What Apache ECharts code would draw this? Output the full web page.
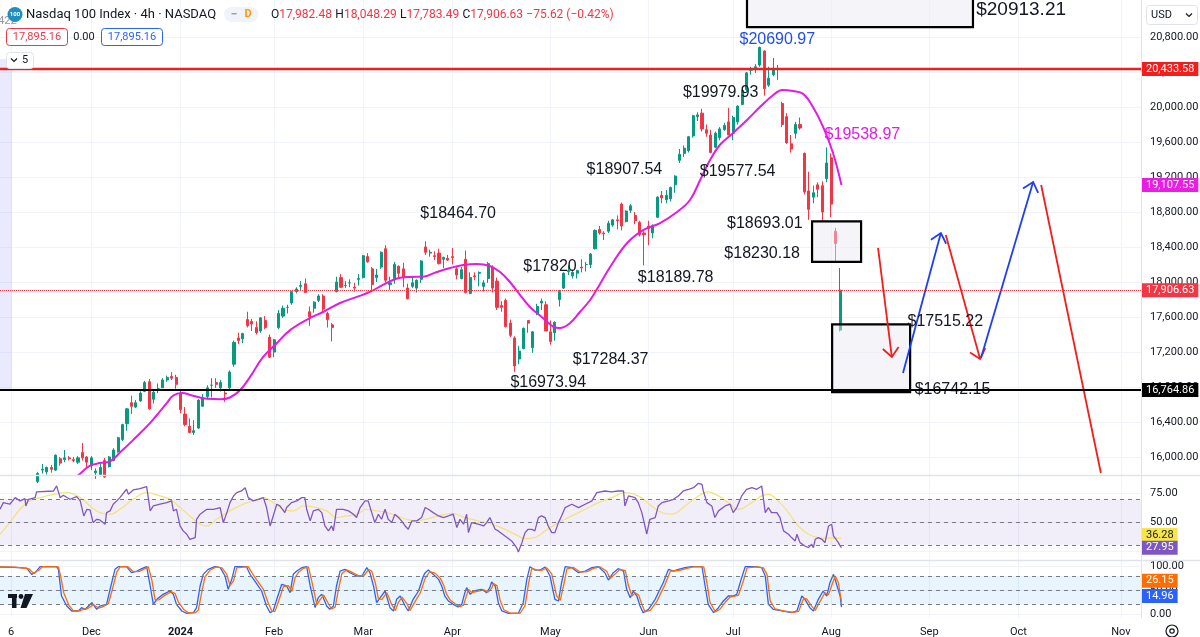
<!DOCTYPE html>
<html>
<head>
<meta charset="utf-8">
<title>Nasdaq 100 Index · 4h · NASDAQ</title>
<script src="https://cdn.jsdelivr.net/npm/echarts@6.0.0/dist/echarts.min.js"></script>
<style>
  html, body { margin: 0; padding: 0; background: #fff; }
  #main { width: 1200px; height: 637px; }
</style>
</head>
<body>
<div id="main"></div>
<script>
// Initialise the echarts instance based on the prepared dom
const myChart = echarts.init(document.getElementById('main'));

// sessions on the time scale (last real bar 2024-08-05, the rest is empty space on the right)
const holidays = ['2023-11-23', '2023-12-25', '2024-01-01', '2024-01-15', '2024-02-19', '2024-03-29',
    '2024-05-27', '2024-06-19', '2024-07-04', '2024-09-02'];
const sessionCount = 256;
const sessions = [];
for (let d = new Date(Date.UTC(2023, 10, 2)); sessions.length < sessionCount; d.setUTCDate(d.getUTCDate() + 1)) {
    const iso = d.toISOString().slice(0, 10);
    if (d.getUTCDay() !== 0 && d.getUTCDay() !== 6 && !holidays.includes(iso)) sessions.push(iso);
}
const timeLabels = {
    '2023-11-06': '6', '2023-12-01': 'Dec', '2024-01-02': '2024', '2024-02-01': 'Feb', '2024-03-01': 'Mar',
    '2024-04-01': 'Apr', '2024-05-01': 'May', '2024-06-03': 'Jun', '2024-07-01': 'Jul', '2024-08-01': 'Aug',
    '2024-09-03': 'Sep', '2024-10-01': 'Oct', '2024-11-01': 'Nov'
};
const timeTicks = Object.keys(timeLabels).map(d => sessions.indexOf(d));

// one candle per session: [open, high, low, close]
const ohlc = [
    [14830, 14960, 14780, 14940], [15010, 15130, 14990, 15100], [15090, 15190, 15050, 15170], [15170, 15340, 15150, 15320],
    [15330, 15380, 15270, 15340], [15350, 15400, 15180, 15200], [15230, 15540, 15210, 15530], [15480, 15540, 15440, 15480],
    [15720, 15830, 15700, 15810], [15850, 15920, 15810, 15860], [15830, 15890, 15800, 15880], [15880, 15910, 15820, 15860],
    [15850, 16030, 15840, 16020], [15980, 16000, 15900, 15930], [15970, 16080, 15940, 15990], [15990, 16010, 15960, 15980],
    [15970, 16000, 15940, 15960], [15940, 16010, 15920, 15990], [16050, 16160, 15960, 15990], [16000, 16010, 15880, 15940],
    // Dec
    [15900, 16010, 15850, 15990], [15820, 15870, 15750, 15840], [15800, 15920, 15780, 15880], [15960, 15990, 15760, 15770],
    [15890, 16010, 15880, 16000], [15960, 16100, 15950, 16080], [16060, 16230, 16050, 16220], [16200, 16380, 16180, 16370],
    [16380, 16560, 16300, 16550], [16620, 16700, 16490, 16580], [16570, 16650, 16560, 16620], [16640, 16750, 16630, 16730],
    [16750, 16870, 16740, 16850], [16860, 16890, 16540, 16550], [16660, 16760, 16610, 16740], [16780, 16840, 16730, 16780],
    [16790, 16900, 16790, 16880], [16880, 16930, 16860, 16910], [16920, 16970, 16880, 16900], [16910, 16940, 16780, 16830],
    // Jan
    [16720, 16760, 16500, 16540], [16490, 16570, 16350, 16370], [16350, 16440, 16270, 16280], [16280, 16420, 16250, 16300],
    [16330, 16660, 16320, 16650], [16580, 16720, 16570, 16680], [16690, 16820, 16660, 16790], [16820, 16900, 16680, 16820],
    [16850, 16900, 16790, 16830], [16790, 16880, 16750, 16850], [16730, 16760, 16630, 16720], [16790, 16990, 16770, 16970],
    [17060, 17330, 17030, 17310], [17360, 17420, 17290, 17330], [17350, 17420, 17300, 17410], [17570, 17660, 17480, 17500],
    [17550, 17580, 17440, 17520], [17480, 17550, 17400, 17420], [17440, 17600, 17420, 17590], [17560, 17610, 17460, 17480],
    [17370, 17400, 17130, 17140],
    // Feb
    [17200, 17350, 17140, 17340], [17480, 17680, 17460, 17640], [17610, 17730, 17590, 17700], [17710, 17740, 17640, 17710],
    [17760, 17900, 17740, 17890], [17890, 17940, 17870, 17920], [17950, 18010, 17910, 17960], [17980, 18040, 17880, 17880],
    [17660, 17720, 17500, 17600], [17700, 17780, 17650, 17770], [17790, 17860, 17770, 17840], [17840, 17860, 17660, 17690],
    [17640, 17660, 17480, 17570], [17510, 17530, 17320, 17480], [17890, 18060, 17880, 18000], [18050, 18090, 17930, 17940],
    [17960, 18010, 17930, 17960], [17990, 18030, 17940, 17990], [17940, 17990, 17890, 17930], [18030, 18090, 17960, 18040],
    // Mar
    [18050, 18310, 18040, 18300], [18290, 18330, 18220, 18230], [18150, 18170, 17900, 17970], [18050, 18150, 18000, 18080],
    [18170, 18350, 18150, 18340], [18380, 18420, 17990, 18020], [17970, 18060, 17910, 17990], [18040, 18230, 17980, 18200],
    [18180, 18190, 18050, 18100], [18150, 18220, 17940, 18050], [17930, 17980, 17800, 17810], [17950, 18070, 17930, 17990],
    [17930, 18030, 17880, 18020], [18030, 18250, 17990, 18240], [18400, 18465, 18310, 18340], [18330, 18370, 18290, 18340],
    [18300, 18350, 18250, 18290], [18330, 18380, 18200, 18210], [18260, 18290, 18160, 18280], [18270, 18310, 18240, 18250],
    // Apr
    [18290, 18390, 18200, 18280], [18150, 18170, 18030, 18080], [18040, 18170, 18030, 18140], [18260, 18360, 17870, 17880],
    [17870, 18110, 17860, 18050], [18070, 18110, 18020, 18060], [18100, 18120, 17950, 18110], [17950, 18020, 17890, 17990],
    [18040, 18230, 17990, 18210], [18170, 18190, 17880, 17930], [18010, 18050, 17680, 17710], [17730, 17780, 17660, 17710],
    [17790, 17810, 17480, 17490], [17530, 17570, 17370, 17390], [17360, 17380, 16974, 17040], [17120, 17270, 17060, 17210],
    [17240, 17480, 17230, 17470], [17560, 17560, 17420, 17530], [17250, 17440, 17190, 17430], [17640, 17750, 17620, 17720],
    [17760, 17810, 17680, 17780], [17740, 17780, 17440, 17440],
    // May
    [17430, 17560, 17284, 17320], [17420, 17550, 17330, 17540], [17800, 17910, 17720, 17890], [17930, 18110, 17920, 18100],
    [18120, 18190, 18080, 18130], [18070, 18140, 18040, 18110], [18100, 18140, 18040, 18130], [18170, 18260, 18110, 18160],
    [18200, 18230, 18120, 18200], [18200, 18330, 18160, 18320], [18380, 18600, 18370, 18590], [18600, 18640, 18540, 18560],
    [18560, 18580, 18480, 18550], [18580, 18700, 18560, 18670], [18650, 18720, 18630, 18710], [18710, 18760, 18600, 18700],
    [18890, 18908, 18590, 18640], [18690, 18820, 18680, 18810], [18820, 18890, 18790, 18870], [18760, 18800, 18660, 18700],
    [18680, 18700, 18520, 18540], [18560, 18580, 18190, 18540],
    // Jun
    [18640, 18700, 18420, 18610], [18560, 18660, 18500, 18640], [18740, 18980, 18730, 18970], [18990, 19040, 18900, 18960],
    [18940, 19050, 18900, 18990], [18950, 19090, 18920, 19080], [19110, 19220, 19020, 19210], [19390, 19520, 19360, 19460],
    [19470, 19560, 19430, 19530], [19500, 19670, 19480, 19660], [19670, 19910, 19650, 19900], [19890, 19940, 19840, 19910],
    [19930, 19980, 19720, 19750], [19740, 19800, 19660, 19700], [19680, 19740, 19470, 19480], [19540, 19720, 19530, 19700],
    [19650, 19770, 19620, 19750], [19740, 19820, 19730, 19790], [19830, 19990, 19680, 19680],
    // Jul
    [19700, 19900, 19620, 19880], [19830, 20020, 19800, 20010], [20030, 20190, 20020, 20190], [20200, 20400, 20180, 20390],
    [20420, 20460, 20370, 20440], [20440, 20490, 20390, 20460], [20480, 20691, 20460, 20680], [20640, 20650, 20130, 20210],
    [20250, 20460, 20230, 20330], [20370, 20560, 20350, 20430], [20440, 20480, 20310, 20440], [20040, 20060, 19770, 19800],
    [19890, 19930, 19580, 19590], [19580, 19680, 19480, 19520], [19700, 19830, 19640, 19800], [19800, 19880, 19740, 19760],
    [19470, 19480, 19000, 19030], [19040, 19260, 18710, 18830], [18970, 19100, 18900, 19020], [19110, 19140, 18970, 19060],
    [19100, 19150, 18700, 18800], [19180, 19539, 19140, 19360],
    // Aug
    [19420, 19470, 18740, 18890], [18580, 18620, 18230, 18440], [17450, 18160, 17433, 17906.63]
];

// magenta moving average, [session index, price]
const maPts = [[8, 15300], [13, 15600], [17.4, 15806], [19.7, 15900], [21.9, 15930], [24.2, 15950], [26.4, 16050],
    [29.3, 16190], [33.2, 16390], [37, 16620], [38.3, 16700], [40.3, 16730], [42.8, 16700], [46, 16665], [48.9, 16660],
    [51.1, 16680], [53.4, 16765], [55.6, 16915], [58.5, 17140], [61.6, 17300], [64.6, 17450], [69.1, 17589], [72, 17657],
    [75.8, 17760], [79.6, 17830], [82.5, 17886], [85.4, 17966], [88.6, 18040], [91.5, 18057], [94.4, 18060], [97.5, 18114],
    [100.5, 18160], [103.4, 18194], [106.5, 18206], [109.4, 18183], [111.7, 18114], [113.9, 18000], [116.2, 17851],
    [118.4, 17714], [121.3, 17589], [123.6, 17490], [125.1, 17474], [127.4, 17531], [129.6, 17657], [131.9, 17794],
    [134.1, 17975], [136.5, 18180], [140.2, 18446], [143.8, 18594], [147.6, 18674], [151.4, 18800], [154.3, 18937],
    [156.6, 19166], [158.8, 19394], [161, 19566], [164, 19703], [167.1, 19851], [170, 20000], [173, 20137], [175, 20194],
    [177.4, 20183], [179.7, 20150], [181.9, 20000], [184.2, 19771], [186.4, 19474], [188.3, 19107.55]];

// RSI and its moving average, [session index, value]
const rsiPts = [[-0.5, 61.3], [0.25, 67.1], [1.7, 65.7], [2.9, 71.4], [4, 68.6], [5.1, 70.6], [5.3, 64.2], [5.9, 70],
    [7.4, 71.4], [7.7, 76.4], [11.5, 77.2], [12.2, 81.6], [13, 71.4], [13.7, 73.5], [15.2, 70], [16.7, 72.3], [17.5, 68.6],
    [18.3, 55.5], [19, 61.3], [19.7, 60.7], [20.4, 49.7], [21.2, 52.6], [21.9, 52], [23.1, 48.3], [23.4, 58.4], [24.2, 59.9],
    [24.9, 65.7], [25.7, 68.6], [26.4, 71.4], [27.9, 78.7], [28.3, 74.3], [29.4, 78.1], [30.9, 79.3], [32.4, 81], [32.8, 80.1],
    [33.2, 59.9], [33.9, 64.2], [35.4, 65.7], [36.9, 67.1], [38, 68.6], [38.4, 59.9], [39.1, 61.3], [39.9, 46.8], [40.6, 42.5],
    [41.4, 39.6], [42.1, 35.2], [43.3, 36.7], [43.6, 52.6], [44.4, 57], [45.9, 61.3], [47.4, 61.3], [48.9, 62.8], [49.6, 49.7],
    [50.4, 58.4], [51.1, 67.1], [51.9, 72.9], [52.6, 75.8], [53.7, 77.2], [54.5, 80.1], [54.8, 81.6], [55.2, 71.4], [56.3, 68.6],
    [57.5, 70], [58.6, 71.4], [59.3, 62.8], [60.1, 46.8], [60.8, 55.5], [61.6, 65.7], [62.3, 64.2], [63.4, 58.4], [63.8, 62.8],
    [64.9, 67.1], [66.1, 68.6], [67.2, 71.4], [67.9, 71.4], [68.3, 61.3], [69.1, 51.2], [69.8, 59.9], [70.9, 61.3], [71.7, 58.4],
    [72.4, 46.8], [73.2, 42.5], [73.9, 46.8], [74.3, 42.5], [75, 61.3], [76.5, 61.3], [77.7, 59.9], [78.8, 57], [79.5, 54.1],
    [80.3, 62.8], [81.4, 68.6], [82.1, 68.6], [82.9, 58.4], [83.6, 49.7], [84.4, 57], [85.1, 52.6], [85.9, 61.3], [86.6, 52.6],
    [87.4, 49.7], [88.1, 57], [88.9, 54.1], [89.6, 51.2], [90.4, 46.8], [91.1, 43.9], [91.9, 51.2], [93, 51.2], [94.1, 54.1],
    [94.9, 62.8], [95.6, 61.3], [96.7, 58.4], [97.9, 55.5], [99, 54.1], [100.1, 55.5], [101.2, 57], [102, 45.4], [102.7, 52.6],
    [103.5, 48.3], [104.2, 57], [104.6, 41], [105.3, 49.7], [106.8, 48.3], [108, 46.8], [108.7, 49.7], [109.4, 54.1],
    [109.8, 55.5], [110.6, 43.9], [111.3, 42.5], [112.8, 38.1], [114.3, 33.8], [115.4, 28], [115.8, 24.2], [116.6, 32.3],
    [117.3, 41], [118, 43.9], [118.8, 43.9], [119.5, 42.5], [120.3, 54.1], [121, 55.5], [121.8, 54.1], [122.5, 46.8],
    [123.3, 41], [124, 41], [124.8, 49.7], [125.5, 55.5], [126.3, 62.8], [127.8, 65.7], [129.3, 62.8], [130.8, 65.7],
    [132.3, 68.6], [133.4, 75.8], [135.2, 77.2], [136.7, 76.4], [138.2, 77.2], [139.4, 77.2], [139.7, 64.2], [140.5, 72.9],
    [142, 71.4], [142.7, 67.1], [143.5, 58.4], [144.2, 46.8], [144.6, 39.6], [145.3, 52.6], [146.5, 54.1], [147.2, 64.2],
    [148, 67.1], [149.5, 68.6], [150.6, 70], [151.7, 72.9], [152.8, 77.2], [154, 78.7], [155.1, 80.1], [156.2, 83.9],
    [157, 83], [157.3, 77.2], [158.1, 67.1], [159.2, 64.2], [159.9, 54.1], [160.7, 59.9], [162.2, 64.2], [163.3, 65.7],
    [164, 58.4], [164.8, 62.8], [165.9, 72.9], [167, 78.7], [168.2, 80.1], [169.3, 78.7], [170.4, 81.6], [170.8, 83],
    [171.2, 58.4], [171.9, 62.8], [172.6, 58.4], [173.8, 58.4], [174.5, 54.1], [175.3, 42.5], [176.4, 39.6], [177.1, 36.7],
    [177.9, 33.8], [178.3, 39.6], [179, 32.3], [180.1, 29.4], [180.9, 28], [181.6, 30.9], [182, 28], [182.4, 35.2],
    [183.1, 36.7], [183.9, 35.2], [184.6, 32.3], [185.4, 46.8], [186.1, 48.3], [186.5, 38.1], [187.6, 32.3], [188, 29.4],
    [188.3, 27.95]];
const rsiMaPts = [[-0.5, 39.6], [1.7, 49.7], [4, 61.3], [6.2, 68.6], [8.5, 71.4], [11.5, 74.3], [14.5, 75.8], [17.5, 71.4],
    [19.7, 64.2], [21.9, 58.4], [24.2, 57], [26.4, 61.3], [29.4, 70], [32.4, 75.8], [35.4, 72.9], [37.6, 70], [39.9, 62.8],
    [42.1, 55.5], [44.4, 48.3], [45.9, 46.8], [48.1, 52.6], [51.1, 59.9], [54.1, 65.7], [57.1, 70], [58.6, 71.4], [60.8, 67.1],
    [63.1, 61.3], [65.3, 59.9], [67.6, 64.2], [70.6, 62.8], [72.8, 59.9], [75, 54.1], [77.3, 55.5], [79.5, 57], [81.8, 61.3],
    [84, 59.9], [86.3, 58.4], [88.5, 55.5], [90.7, 52.6], [93, 51.2], [94.9, 52.6], [97.9, 55.5], [100.8, 57.8], [103.8, 54.1],
    [106.8, 51.2], [109.8, 48.3], [112.8, 43.9], [115.8, 38.1], [117.3, 35.8], [119.5, 36.7], [121.8, 42.5], [124.8, 49.7],
    [127.8, 55.5], [130.8, 61.3], [133.8, 67.1], [136.7, 71.4], [139.7, 75.8], [142.7, 72.9], [145.7, 64.2], [148, 58.4],
    [150.2, 57], [153.2, 64.2], [156.2, 72.9], [158.4, 76.4], [160.7, 72.9], [162.9, 67.1], [165.2, 61.3], [168.2, 67.1],
    [170.4, 72.9], [171.9, 74.3], [174.1, 68.6], [176.4, 58.4], [178.6, 46.8], [180.9, 39.6], [183.1, 36.7], [185.4, 36.1],
    [188.3, 36.28]];

// stochastic %K and %D, [session index, value]
const stochK = [[-0.5, 98.8], [2.5, 98], [5.5, 96.7], [6.6, 83.5], [7.4, 87], [7.7, 90.4], [8.5, 99.5], [12.2, 99.5],
    [12.6, 93.9], [13.3, 38.1], [14.5, 17.2], [15.6, 6.8], [17.1, 6.8], [17.8, 13.7], [18.6, 10.3], [20.1, 24.2], [21.2, 10.3],
    [21.9, 17.2], [23.4, 20.7], [24.2, 52.1], [25.3, 93.9], [26.05, 99.5], [27.9, 99.5], [29, 87], [30.2, 90.4], [31.3, 95.3],
    [32.4, 99.5], [33.2, 59.1], [33.9, 20.7], [34.7, 31.2], [36.1, 41.6], [37.6, 48.6], [38.4, 41.6], [39.1, 20.7], [40.3, 6.8],
    [41.4, 1.9], [42.9, 3.3], [43.6, 13.7], [44.4, 59.1], [45.1, 83.5], [46.2, 93.9], [47.7, 99.5], [48.9, 97.4], [50, 80],
    [50.7, 52.1], [51.5, 73], [52.2, 99.5], [54.8, 99.5], [55.6, 83.5], [56.7, 69.5], [58.2, 48.6], [59.3, 17.2], [60.1, 3.3],
    [60.8, 6.8], [61.6, 31.2], [62.7, 62.6], [63.8, 59.1], [64.6, 45.1], [65.3, 83.5], [66.1, 90.4], [67.2, 97.4], [68.3, 99.5],
    [69.1, 59.1], [70.2, 13.7], [70.9, 34.7], [71.7, 41.6], [72.8, 17.2], [73.5, 10.3], [74.3, 17.2], [75, 59.1], [75.8, 90.4],
    [76.9, 93.9], [78, 87], [79.5, 80], [80.7, 80], [81.8, 97.4], [82.5, 87], [83.3, 59.1], [84, 24.2], [84.8, 34.7],
    [85.9, 48.6], [87, 13.7], [87.8, 6.8], [88.5, 31.2], [89.3, 38.1], [90.4, 17.2], [91.1, 6.8], [92.2, 31.2], [93.4, 48.6],
    [94.5, 80], [94.9, 87], [95.6, 92.5], [96.7, 83.5], [97.9, 73], [98.6, 59.1], [99.3, 38.1], [100.1, 27.7], [101.2, 20.7],
    [102.3, 15.1], [103.1, 20.7], [103.8, 45.1], [104.2, 55.6], [105, 41.6], [105.7, 48.6], [107.6, 52.1], [108.7, 45.1],
    [109.4, 55.6], [109.8, 67.4], [110.6, 59.1], [111.3, 24.2], [112.1, 6.8], [113.6, 1.9], [115.8, 1.9], [116.9, 24.2],
    [117.7, 73], [118.4, 99.5], [119.5, 92.5], [120.7, 92.5], [121.8, 98.8], [122.9, 80], [124, 31.2], [124.8, 27.7],
    [125.5, 66], [126.3, 99.5], [127.8, 97.4], [129.3, 87], [130.8, 90.4], [132.3, 97.4], [133.8, 99.5], [135.2, 87],
    [136, 71.6], [137.1, 87], [138.2, 95.3], [139.4, 90.4], [140.1, 52.1], [140.9, 34.7], [141.6, 48.6], [142.4, 38.1],
    [143.1, 17.2], [143.8, 3.3], [145, 10.3], [146.5, 31.2], [147.2, 45.1], [148.3, 66], [149.5, 93.9], [150.6, 90.4],
    [151.7, 93.9], [153.2, 97.4], [154.7, 99.5], [157, 99.5], [157.7, 59.1], [158.4, 20.7], [159.6, 3.3], [160.7, 13.7],
    [161.8, 27.7], [162.9, 38.1], [164, 38.1], [164.8, 41.6], [165.9, 76.5], [166.7, 99.5], [168.9, 99.5], [170.4, 97.4],
    [171.2, 80], [171.9, 20.7], [173, 10.3], [174.9, 6.8], [177.1, 3.3], [178.3, 6.8], [179.4, 38.1], [180.1, 31.2],
    [181.2, 13.7], [182, 6.8], [183.1, 31.2], [184.2, 48.6], [185, 38.1], [185.7, 66], [186.5, 83.5], [187.2, 62.6],
    [188, 38.1], [188.3, 14.96]];
const stochD = [[-0.5, 99], [3, 98.5], [6, 95], [7, 86], [8.2, 92], [9, 99.5], [12.6, 99], [13.1, 80], [13.8, 45], [15, 18],
    [16, 7], [17.5, 7], [18.3, 11], [19, 11], [20.5, 20], [21.6, 13], [22.4, 15], [23.8, 22], [24.6, 48], [25.7, 88],
    [26.5, 99.5], [28.3, 99], [29.4, 89], [30.6, 89], [31.7, 94], [32.8, 99], [33.6, 70], [34.3, 30], [35.1, 30], [36.5, 40],
    [38, 47], [38.8, 43], [39.5, 26], [40.7, 10], [41.8, 3], [43.3, 3], [44, 9], [44.8, 48], [45.5, 78], [46.6, 92], [48, 99],
    [49.3, 97], [50.4, 83], [51.1, 60], [51.9, 70], [52.6, 97], [55.2, 99.5], [56, 87], [57.1, 72], [58.6, 52], [59.7, 23],
    [60.5, 6], [61.2, 6], [62, 27], [63.1, 58], [64.2, 60], [65, 48], [65.7, 76], [66.5, 88], [67.6, 96], [68.7, 99],
    [69.5, 67], [70.6, 20], [71.3, 30], [72.1, 40], [73.2, 22], [73.9, 11], [74.7, 15], [75.4, 50], [76.2, 85], [77.3, 93],
    [78.4, 88], [79.9, 81], [81.1, 80], [82.2, 94], [82.9, 90], [83.7, 66], [84.4, 32], [85.2, 31], [86.3, 45], [87.4, 20],
    [88.2, 8], [88.9, 25], [89.7, 36], [90.8, 22], [91.5, 8], [92.6, 26], [93.8, 45], [94.9, 75], [95.9, 89], [97.1, 86],
    [98.3, 75], [99, 62], [99.7, 42], [100.5, 30], [101.6, 22], [102.7, 16], [103.5, 19], [104.2, 40], [104.6, 52],
    [105.4, 45], [106.1, 47], [108, 51], [109.1, 47], [109.8, 54], [110.2, 64], [111, 60], [111.7, 30], [112.5, 10], [114, 2],
    [116.2, 2], [117.3, 18], [118.1, 65], [118.8, 96], [119.9, 93], [121.1, 92], [122.2, 97], [123.3, 84], [124.4, 38],
    [125.2, 29], [125.9, 58], [126.7, 95], [128.2, 98], [129.7, 88], [131.2, 89], [132.7, 96], [134.2, 99], [135.6, 90],
    [136.4, 75], [137.5, 84], [138.6, 94], [139.8, 91], [140.5, 60], [141.3, 38], [142, 45], [142.8, 40], [143.5, 21],
    [144.2, 5], [145.4, 8], [146.9, 27], [147.6, 41], [148.7, 62], [149.9, 90], [151, 91], [152.1, 92], [153.6, 96],
    [155.1, 99], [157.4, 99], [158.1, 66], [158.8, 25], [160, 5], [161.1, 11], [162.2, 25], [163.3, 36], [164.4, 38],
    [165.2, 40], [166.3, 70], [167.1, 97], [169.3, 99], [170.8, 97], [171.6, 83], [172.3, 28], [173.4, 11], [175.3, 7],
    [177.5, 4], [178.7, 6], [179.8, 33], [180.5, 32], [181.6, 17], [182.4, 8], [183.5, 27], [184.6, 45], [185.4, 41],
    [186.1, 60], [186.9, 80], [187.6, 66], [188.3, 26.15]];

// levels and drawings on the price pane
const resistance = 20433.58;
const support = 16764.86;
const lastClose = 17906.63;
const maLast = 19107.55;
const rsiLast = 27.95, rsiMaLast = 36.28, kLast = 14.96, dLast = 26.15;
const priceTicks = [16000, 16400, 16800, 17200, 17600, 18000, 18400, 18800, 19200, 19600, 20000, 20400, 20800];
// [from index, to index, low price, high price]
const boxes = [[167.1, 217.8, 20913.21, 21600], [181.7, 192.7, 18230.18, 18693.01], [186.2, 203.7, 16742.15, 17515.22]];
const leftZone = [-0.5, 2.2, 16764.86, 20550];
// [from index, from price, to index, to price, arrow head]
const arrows = [
    [196.5, 18389, 199.6, 17143, true],
    [202.1, 16960, 210.6, 18560, true],
    [211.7, 18537, 219.4, 17120, true],
    [219.6, 17131, 231.3, 19143, true],
    [233.1, 19109, 246.5, 15817, false]
];
// [text, index, price]
const notes = [
    ['$20690.97', 173.9, 20766], ['$19979.93', 161.2, 20160], ['$19538.97', 193.0, 19680],
    ['$18907.54', 139.6, 19280], ['$19577.54', 165.0, 19257], ['$18464.70', 102.3, 18777],
    ['$18693.01', 171.1, 18663], ['$18230.18', 170.5, 18320], ['$17820', 122.9, 18171],
    ['$18189.78', 151.1, 18046], ['$17515.22', 211.6, 17543], ['$17284.37', 136.5, 17117],
    ['$16973.94', 122.5, 16849], ['$16742.15', 213.2, 16766], ['$20913.21', 228.6, 21114]
];
const noteColors = { '$20690.97': '#1f4fe8', '$19538.97': '#e31be3' };

const UP = '#089981', DOWN = '#f23645', INK = '#131722', GRIDC = '#f0f3fa';
const fmt = v => v.toLocaleString('en-US', { minimumFractionDigits: 2, maximumFractionDigits: 2 });

// price tag on the right scale; the line itself is invisible unless overridden
function tag(value, bg, fg, dy) {
    return {
        yAxis: value,
        lineStyle: { color: 'rgba(0,0,0,0)', width: 0 },
        label: {
            show: true, position: 'end', distance: 1, formatter: fmt(value),
            backgroundColor: bg, color: fg, padding: [2, 4, 1, 4], fontSize: 11, fontFamily: 'Roboto',
            offset: [0, dy || 0], opacity: 1
        }
    };
}

function timeAxis(grid, withLabels) {
    return {
        type: 'value', gridIndex: grid, min: -0.5, max: sessionCount - 0.5,
        axisLine: { show: false },
        axisTick: { show: true, length: 0, customValues: timeTicks, lineStyle: { opacity: 0 } },
        axisLabel: withLabels ? {
            show: true, customValues: timeTicks, margin: 9, color: INK, fontSize: 11, fontFamily: 'Roboto',
            formatter: v => {
                const t = timeLabels[sessions[Math.round(v)]];
                return t === '2024' ? '{b|2024}' : t;
            },
            rich: { b: { fontWeight: 'bold', fontSize: 11, color: INK, fontFamily: 'Roboto' } }
        } : { show: false },
        splitLine: { show: true, lineStyle: { color: GRIDC, width: 1 } }
    };
}

function valueAxis(grid, min, max, ticks) {
    return {
        type: 'value', gridIndex: grid, position: 'right', min: min, max: max,
        axisLine: { show: false },
        axisTick: { show: true, length: 0, customValues: ticks, lineStyle: { opacity: 0 } },
        axisLabel: { show: true, customValues: ticks, margin: 9, color: INK, fontSize: 11, fontFamily: 'Roboto', formatter: fmt },
        splitLine: { show: true, lineStyle: { color: GRIDC, width: 1 } }
    };
}

let option;

option = {
    animation: false,
    backgroundColor: '#ffffff',
    textStyle: { fontFamily: 'Roboto' },
    grid: [
        { left: 0, right: 59, top: 0, height: 475, outerBoundsMode: 'none' },
        { left: 0, right: 59, top: 475, height: 85, outerBoundsMode: 'none' },
        { left: 0, right: 59, top: 560, height: 58, outerBoundsMode: 'none' }
    ],
    xAxis: [
        {
            type: 'category', gridIndex: 0, data: sessions, boundaryGap: true,
            axisLine: { show: false }, axisTick: { show: false }, axisLabel: { show: false }, splitLine: { show: false }
        },
        timeAxis(0, false),
        timeAxis(1, false),
        timeAxis(2, true)
    ],
    yAxis: [
        valueAxis(0, 15794, 21223, priceTicks),
        valueAxis(1, 17.2, 91.1, [25, 50, 75]),
        valueAxis(2, -7.9, 113.5, [0, 50, 100])
    ],
    series: [
        {
            name: 'NDX', type: 'candlestick', xAxisIndex: 0, yAxisIndex: 0, clip: true, barWidth: '58%',
            data: ohlc.map(([o, h, l, c]) => [o, c, l, h]),
            itemStyle: { color: UP, color0: DOWN, borderColor: UP, borderColor0: DOWN, borderWidth: 1 },
            markLine: {
                silent: true, symbol: 'none', z: 8,
                data: [
                    Object.assign(tag(resistance, '#f21d1d', '#fff'), { lineStyle: { color: '#f21d1d', width: 2.4, type: 'solid' } }),
                    Object.assign(tag(support, '#000000', '#fff'), { lineStyle: { color: '#000000', width: 2, type: 'solid' } }),
                    Object.assign(tag(lastClose, DOWN, '#fff'), { lineStyle: { color: DOWN, width: 1, type: 'dotted' } }),
                    tag(maLast, '#e91ee5', '#fff')
                ]
            }
        },
        {
            name: 'MA', type: 'line', xAxisIndex: 1, yAxisIndex: 0, data: maPts, smooth: 0.4, showSymbol: false,
            lineStyle: { color: '#e31be3', width: 2 }, z: 3,
            markArea: {
                silent: true, itemStyle: { color: 'rgba(120,125,240,0.16)' },
                data: [[{ coord: [leftZone[0], leftZone[3]] }, { coord: [leftZone[1], leftZone[2]] }]]
            }
        },
        {
            name: 'boxes', type: 'custom', xAxisIndex: 1, yAxisIndex: 0, clip: true, silent: true, z: 4,
            data: boxes.map(b => [b[0], b[2], b[1], b[3]]),
            encode: { x: [0, 2], y: [1, 3] },
            renderItem(params, api) {
                const b = boxes[params.dataIndex];
                const a = api.coord([b[0], b[3]]);
                const c = api.coord([b[1], b[2]]);
                return {
                    type: 'rect',
                    shape: { x: a[0], y: a[1], width: c[0] - a[0], height: c[1] - a[1] },
                    style: { fill: 'rgba(232,233,242,0.45)', stroke: '#000', lineWidth: 2.2 }
                };
            }
        },
        {
            name: 'arrows', type: 'custom', xAxisIndex: 1, yAxisIndex: 0, clip: true, silent: true, z: 6,
            data: arrows.map(a => a.slice(0, 4)),
            encode: { x: [0, 2], y: [1, 3] },
            renderItem(params, api) {
                const a = arrows[params.dataIndex];
                const p1 = api.coord([a[0], a[1]]);
                const p2 = api.coord([a[2], a[3]]);
                const color = a[3] < a[1] ? '#f21d1d' : '#1e3ff0';
                const children = [{
                    type: 'line', shape: { x1: p1[0], y1: p1[1], x2: p2[0], y2: p2[1] },
                    style: { stroke: color, lineWidth: 1.8 }
                }];
                if (a[4]) {
                    const ang = Math.atan2(p1[1] - p2[1], p1[0] - p2[0]);
                    const len = 12, spread = 0.72;
                    children.push({
                        type: 'polyline',
                        shape: {
                            points: [
                                [p2[0] + len * Math.cos(ang + spread), p2[1] + len * Math.sin(ang + spread)],
                                p2,
                                [p2[0] + len * Math.cos(ang - spread), p2[1] + len * Math.sin(ang - spread)]
                            ]
                        },
                        style: { stroke: color, lineWidth: 1.8, fill: null }
                    });
                }
                return { type: 'group', children: children };
            }
        },
        {
            name: 'notes', type: 'custom', xAxisIndex: 1, yAxisIndex: 0, silent: true, z: 7,
            data: notes.map(n => [n[1], n[2]]),
            encode: { x: 0, y: 1 },
            renderItem(params, api) {
                const n = notes[params.dataIndex];
                const p = api.coord([n[1], n[2]]);
                const big = n[0] === '$20913.21';
                return {
                    type: 'text', x: p[0], y: p[1],
                    style: {
                        text: n[0], fill: noteColors[n[0]] || INK, align: 'center', verticalAlign: 'middle',
                        font: (big ? 19 : 16) + 'px "Liberation Sans", Arial, sans-serif'
                    }
                };
            }
        },
        {
            name: 'RSI', type: 'line', xAxisIndex: 2, yAxisIndex: 1, data: rsiPts, showSymbol: false,
            lineStyle: { color: '#7e57c2', width: 1.3 }, z: 4,
            markArea: { silent: true, itemStyle: { color: 'rgba(126,87,194,0.1)' }, data: [[{ yAxis: 30 }, { yAxis: 70 }]] },
            markLine: {
                silent: true, symbol: 'none', z: 8,
                lineStyle: { color: '#787b86', type: [4, 4], width: 1 }, label: { show: false },
                data: [{ yAxis: 70 }, { yAxis: 50 }, { yAxis: 30 }, tag(rsiMaLast, '#f7e64a', INK, -3), tag(rsiLast, '#7e57c2', '#fff')]
            }
        },
        {
            name: 'RSI MA', type: 'line', xAxisIndex: 2, yAxisIndex: 1, data: rsiMaPts, smooth: 0.4, showSymbol: false,
            lineStyle: { color: '#f4e37c', width: 1.3 }, z: 3
        },
        {
            name: '%K', type: 'line', xAxisIndex: 3, yAxisIndex: 2, data: stochK, showSymbol: false,
            lineStyle: { color: '#2962ff', width: 1.3 }, z: 3,
            markArea: { silent: true, itemStyle: { color: 'rgba(33,150,243,0.1)' }, data: [[{ yAxis: 20 }, { yAxis: 80 }]] },
            markLine: {
                silent: true, symbol: 'none', z: 8,
                lineStyle: { color: '#787b86', type: [4, 4], width: 1 }, label: { show: false },
                data: [{ yAxis: 80 }, { yAxis: 50 }, { yAxis: 20 }, tag(dLast, '#ff6d00', '#fff', -21), tag(kLast, '#2962ff', '#fff', -11)]
            }
        },
        {
            name: '%D', type: 'line', xAxisIndex: 3, yAxisIndex: 2, data: stochD, showSymbol: false,
            lineStyle: { color: '#ff6d00', width: 1.3 }, z: 4
        }
    ],
    graphic: [
        // pane borders
        { type: 'line', silent: true, z: 20, shape: { x1: 0, y1: 475.5, x2: 1200, y2: 475.5 }, style: { stroke: '#e0e3eb', lineWidth: 1.5 } },
        { type: 'line', silent: true, z: 20, shape: { x1: 0, y1: 560.5, x2: 1200, y2: 560.5 }, style: { stroke: '#e0e3eb', lineWidth: 1.5 } },
        { type: 'line', silent: true, z: 20, shape: { x1: 1141.5, y1: 0, x2: 1141.5, y2: 618 }, style: { stroke: '#e0e3eb', lineWidth: 1 } },
        // legend
        { type: 'text', silent: true, z: 20, x: -4, y: 21, style: { text: ',422', fill: '#9598a1', font: '11px Roboto', verticalAlign: 'middle' } },
        { type: 'circle', silent: true, z: 21, shape: { cx: 15, cy: 14.5, r: 7.5 }, style: { fill: '#1f8fbf' } },
        { type: 'text', silent: true, z: 22, x: 15, y: 14.5, style: { text: '100', fill: '#fff', font: 'bold 6px Roboto', align: 'center', verticalAlign: 'middle' } },
        { type: 'text', silent: true, z: 21, x: 26, y: 14.5, style: { text: 'Nasdaq 100 Index · 4h · NASDAQ', fill: INK, font: '13px Roboto', verticalAlign: 'middle' } },
        { type: 'rect', silent: true, z: 21, shape: { x: 224, y: 7, width: 34, height: 15, r: 7.5 }, style: { fill: '#f0f3fa' } },
        { type: 'text', silent: true, z: 22, x: 234, y: 14.5, style: { text: '−', fill: '#9598a1', font: 'bold 12px Roboto', align: 'center', verticalAlign: 'middle' } },
        { type: 'text', silent: true, z: 22, x: 248, y: 14.5, style: { text: 'D', fill: '#ff9800', font: 'bold 11px Roboto', align: 'center', verticalAlign: 'middle' } },
        {
            type: 'text', silent: true, z: 21, x: 271, y: 14.5,
            style: {
                text: '{k|O}{v|17,982.48} {k|H}{v|18,048.29} {k|L}{v|17,783.49} {k|C}{v|17,906.63} {v|−75.62 (−0.42%)}',
                verticalAlign: 'middle',
                rich: {
                    k: { fill: INK, fontSize: 12, fontFamily: 'Roboto' },
                    v: { fill: DOWN, fontSize: 12, fontFamily: 'Roboto' }
                }
            }
        },
        { type: 'rect', silent: true, z: 21, shape: { x: 6.5, y: 28.5, width: 61, height: 17, r: 3 }, style: { fill: '#fff', stroke: DOWN, lineWidth: 1 } },
        { type: 'text', silent: true, z: 22, x: 37, y: 37, style: { text: '17,895.16', fill: DOWN, font: '11px Roboto', align: 'center', verticalAlign: 'middle' } },
        { type: 'text', silent: true, z: 22, x: 84, y: 37, style: { text: '0.00', fill: INK, font: '11px Roboto', align: 'center', verticalAlign: 'middle' } },
        { type: 'rect', silent: true, z: 21, shape: { x: 101.5, y: 28.5, width: 61, height: 17, r: 3 }, style: { fill: '#fff', stroke: '#2962ff', lineWidth: 1 } },
        { type: 'text', silent: true, z: 22, x: 132, y: 37, style: { text: '17,895.16', fill: '#2962ff', font: '11px Roboto', align: 'center', verticalAlign: 'middle' } },
        { type: 'rect', silent: true, z: 21, shape: { x: 6.5, y: 52.5, width: 27, height: 16, r: 3 }, style: { fill: '#fff', stroke: '#e0e3eb', lineWidth: 1 } },
        { type: 'polyline', silent: true, z: 22, shape: { points: [[11, 58.5], [14, 61.5], [17, 58.5]] }, style: { stroke: INK, lineWidth: 1.2, fill: null } },
        { type: 'text', silent: true, z: 22, x: 22, y: 60.5, style: { text: '5', fill: INK, font: '11px Roboto', verticalAlign: 'middle' } },
        // currency switch
        { type: 'rect', silent: true, z: 21, shape: { x: 1146.5, y: 5.5, width: 51, height: 19, r: 3 }, style: { fill: '#fff', stroke: '#e0e3eb', lineWidth: 1 } },
        { type: 'text', silent: true, z: 22, x: 1151, y: 15, style: { text: 'USD', fill: INK, font: '11px Roboto', verticalAlign: 'middle' } },
        { type: 'polyline', silent: true, z: 22, shape: { points: [[1186, 13.5], [1189, 16.5], [1192, 13.5]] }, style: { stroke: INK, lineWidth: 1.2, fill: null } },
        // logo and settings
        { type: 'rect', silent: true, z: 21, shape: { x: 8, y: 594, width: 9, height: 4 }, style: { fill: INK } },
        { type: 'rect', silent: true, z: 21, shape: { x: 12, y: 594, width: 4.5, height: 14 }, style: { fill: INK } },
        { type: 'circle', silent: true, z: 21, shape: { cx: 21, cy: 596.5, r: 2.4 }, style: { fill: INK } },
        { type: 'polygon', silent: true, z: 21, shape: { points: [[25, 594], [33, 594], [26.5, 608], [20.5, 608]] }, style: { fill: INK } },
        { type: 'circle', silent: true, z: 21, shape: { cx: 1172, cy: 631, r: 6 }, style: { fill: null, stroke: INK, lineWidth: 1.2 } },
        { type: 'circle', silent: true, z: 21, shape: { cx: 1172, cy: 631, r: 2.2 }, style: { fill: null, stroke: INK, lineWidth: 1.2 } }
    ]
};

option && myChart.setOption(option);
</script>
</body>
</html>
